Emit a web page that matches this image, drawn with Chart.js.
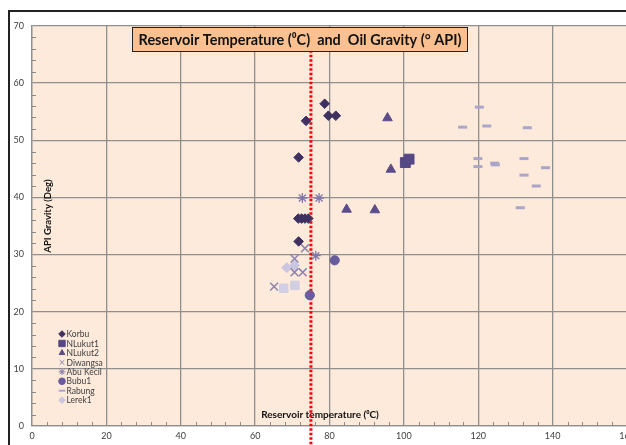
<!DOCTYPE html>
<html lang="en">
<head>
    <meta charset="UTF-8">
    <title>Reservoir Temperature and Oil Gravity</title>
    <script src="https://cdn.jsdelivr.net/npm/chart.js"></script>
    <style>
        html, body { margin: 0; padding: 0; background: #fff; overflow: hidden; }
        #chartBox { width: 640px; height: 445px; }
    </style>
</head>
<body>
    <div id="chartBox"><canvas id="gravityChart"></canvas></div>

    <script>
        // [temperature degC, API gravity]
        const korbu = [[78.7, 56.4], [79.7, 54.3], [81.7, 54.3], [73.7, 53.4], [71.7, 47.0],
                       [71.6, 36.3], [72.5, 36.3], [73.4, 36.3], [74.3, 36.3], [71.7, 32.3]];
        const nlukut1 = [[100.4, 46.1], [101.4, 46.7]];
        const nlukut2 = [[95.6, 53.9], [96.5, 44.9], [84.6, 37.9], [92.2, 37.8]];
        const diwangsa = [[73.4, 31.1], [70.6, 29.3], [70.6, 26.9], [72.8, 26.9], [65.1, 24.4]];
        const abuKecil = [[72.7, 39.9], [77.2, 39.9], [76.3, 29.8]];
        const bubu1 = [[81.4, 29.0], [74.7, 22.9]];
        const rabung = [[120.3, 55.8], [115.8, 52.3], [122.3, 52.5], [133.2, 52.2], [119.9, 46.8],
                        [119.9, 45.4], [124.4, 46.0], [124.6, 45.7], [132.3, 46.8], [138.1, 45.2],
                        [132.3, 43.9], [135.6, 42.0], [131.3, 38.2]];
        const lerek1 = [[68.5, 27.7], [70.6, 28.1]];
        const lerekSquares = [[67.7, 24.1], [70.7, 24.6]];

        const refTemp = 75;           // red dotted line
        const refSpan = [-4, 70];

        const xTicks = [0, 20, 40, 60, 80, 100, 120, 140, 160];
        const yTicks = [0, 10, 20, 30, 40, 50, 60, 70];

        const toPts = arr => arr.map(p => ({ x: p[0], y: p[1] }));

        function series(label, arr, style, color, radius, extra) {
            return Object.assign({
                type: 'scatter',
                label: label,
                data: toPts(arr),
                pointStyle: style,
                pointRadius: radius,
                pointHoverRadius: radius,
                backgroundColor: color,
                borderColor: color,
                borderWidth: 1
            }, extra || {});
        }

        const datasets = [
            series('Korbu', korbu, 'rectRot', '#3e3160', 4.8),
            series('NLukut1', nlukut1, 'rect', '#564884', 7),
            series('NLukut2', nlukut2, 'triangle', '#5c4d8a', 5.5),
            series('Diwangsa', diwangsa, 'crossRot', '#8c83ad', 5.5, { borderWidth: 1.5 }),
            series('Abu Kecil', abuKecil, 'star', '#8178aa', 5, { borderWidth: 1.3 }),
            series('Bubu1', bubu1, 'circle', '#6a5a9e', 4.6),
            series('Rabung', rabung, 'line', '#aaa5c9', 4.5, { borderWidth: 3 }),
            series('Lerek1', lerek1, 'rectRot', '#cbc6df', 5),
            series('', lerekSquares, 'rect', '#d2cee3', 6),
            {
                type: 'line',
                label: '',
                data: refSpan.map(v => ({ x: refTemp, y: v })),
                borderColor: '#ff0000',
                borderWidth: 3,
                borderDash: [2.5, 2],
                pointRadius: 0,
                fill: false,
                clip: false
            }
        ];

        const FONT = '"Lato", "Open Sans", "DejaVu Sans", sans-serif';

        const decor = {
            id: 'decor',
            beforeDraw(chart) {
                const { ctx, chartArea: a } = chart;
                ctx.save();
                ctx.fillStyle = '#ffffff';
                ctx.fillRect(0, 0, chart.width, chart.height);
                ctx.fillStyle = '#fdeadb';
                ctx.fillRect(a.left, a.top, a.right - a.left, a.bottom - a.top);
                // outer chart frame
                ctx.strokeStyle = '#222';
                ctx.lineWidth = 2;
                ctx.beginPath();
                ctx.moveTo(9, chart.height);
                ctx.lineTo(9, 11);
                ctx.lineTo(chart.width, 11);
                ctx.stroke();
                ctx.restore();
            },
            beforeDatasetsDraw(chart) {
                const { ctx, chartArea: a, scales } = chart;
                ctx.save();
                // minor tick marks
                ctx.strokeStyle = '#8a8a8a';
                ctx.lineWidth = 1;
                ctx.beginPath();
                for (let v = 2; v < 70; v += 2) {
                    if (v % 10 === 0) continue;
                    const py = Math.round(scales.y.getPixelForValue(v)) + 0.5;
                    ctx.moveTo(a.left, py);
                    ctx.lineTo(a.left + 4, py);
                }
                for (let v = 4; v < 160; v += 4) {
                    if (v % 20 === 0) continue;
                    const px = Math.round(scales.x.getPixelForValue(v)) + 0.5;
                    ctx.moveTo(px, a.bottom);
                    ctx.lineTo(px, a.bottom - 4);
                }
                ctx.stroke();

                // axis titles inside the plot
                ctx.fillStyle = '#111';
                ctx.font = 'bold 10px ' + FONT;
                ctx.textAlign = 'center';
                ctx.textBaseline = 'middle';
                ctx.fillText('Reservoir temperature (\u2070C)', 320, 415);
                ctx.translate(48, 216);
                ctx.rotate(-Math.PI / 2);
                ctx.font = 'bold 9.5px ' + FONT;
                ctx.fillText('API Gravity (Deg)', 0, 0);
                ctx.restore();
            },
            afterDraw(chart) {
                const { ctx } = chart;
                ctx.save();
                // title box
                const text = 'Reservoir Temperature (\u2070C)  and  Oil Gravity (\u00b0 API)';
                let size = 17;
                ctx.font = 'bold ' + size + 'px ' + FONT;
                size = size * 323 / ctx.measureText(text).width;
                ctx.font = 'bold ' + size.toFixed(2) + 'px ' + FONT;
                ctx.fillStyle = '#fac08f';
                ctx.fillRect(132, 27, 335, 24);
                ctx.strokeStyle = '#222';
                ctx.lineWidth = 1;
                ctx.strokeRect(132.5, 27.5, 335, 24);
                ctx.fillStyle = '#111';
                ctx.textAlign = 'center';
                ctx.textBaseline = 'middle';
                ctx.fillText(text, 300, 40);

                // legend
                const items = chart.data.datasets.filter(d => d.label && d.type === 'scatter');
                ctx.font = '8.5px ' + FONT;
                ctx.textAlign = 'left';
                items.forEach((d, i) => {
                    const y = 334 + i * 9.45;
                    ctx.fillStyle = d.backgroundColor;
                    ctx.strokeStyle = d.borderColor;
                    ctx.lineWidth = d.pointStyle === 'line' ? 2 : 1;
                    Chart.helpers.drawPoint(ctx, {
                        pointStyle: d.pointStyle,
                        radius: d.pointStyle === 'rect' ? 4.5 : 3.3,
                        rotation: 0,
                        borderWidth: ctx.lineWidth
                    }, 62, y);
                    ctx.fillStyle = '#404040';
                    ctx.fillText(d.label, 66.5, y + 0.5);
                });
                ctx.restore();
            }
        };

        new Chart(document.getElementById('gravityChart'), {
            type: 'scatter',
            data: { datasets: datasets },
            options: {
                responsive: true,
                maintainAspectRatio: false,
                animation: false,
                layout: { padding: { left: 8, top: 26, right: 13, bottom: 0 } },
                plugins: {
                    legend: { display: false },
                    title: { display: false },
                    tooltip: { enabled: false }
                },
                scales: {
                    x: {
                        type: 'linear',
                        min: 0,
                        max: 160,
                        afterFit: s => { s.height = 19; },
                        afterBuildTicks: s => { s.ticks = xTicks.map(v => ({ value: v })); },
                        grid: { color: '#8f8f8f', lineWidth: 1.3, drawTicks: false },
                        border: { color: '#8f8f8f', width: 1.3 },
                        ticks: { padding: 5, color: '#404040', font: { family: FONT, size: 9 } }
                    },
                    y: {
                        type: 'linear',
                        min: 0,
                        max: 70,
                        afterFit: s => { s.width = 24; },
                        afterBuildTicks: s => { s.ticks = yTicks.map(v => ({ value: v })); },
                        grid: { color: '#8f8f8f', lineWidth: 1.3, drawTicks: false },
                        border: { color: '#8f8f8f', width: 1.3 },
                        ticks: { padding: 8, color: '#404040', font: { family: FONT, size: 9 } }
                    }
                }
            },
            plugins: [decor]
        });
    </script>
</body>
</html>
